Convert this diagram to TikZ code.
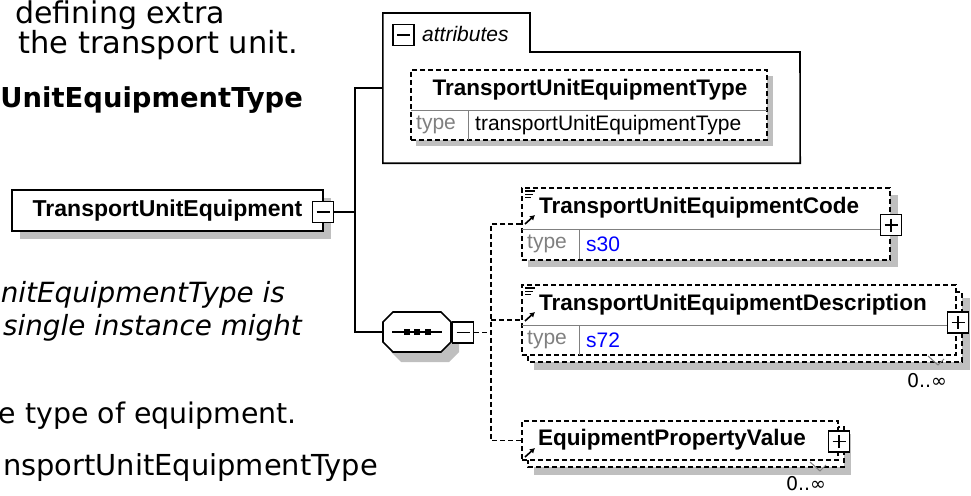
\documentclass[tikz,border=0pt]{standalone}
\usepackage{fontspec}
\setmainfont{DejaVu Sans}
\newfontfamily\spyfont{Liberation Sans}
\usepackage{tikz}
\usetikzlibrary{arrows.meta,calc}
\colorlet{shadowgray}{black!25}
\colorlet{labelgray}{black!50}
\colorlet{typeblue}{blue}
\newcommand{\pmbox}[4]{% name, x, y, 1 = plus
  \node[draw,line width=1.6pt,fill=white,minimum width=21pt,minimum height=21pt,inner sep=0pt] (#1) at (#2,#3) {};
  \draw[line width=1.3pt] ($(#1.center)+(-6.5,0)$)--($(#1.center)+(6.5,0)$);
  \ifnum#4=1 \draw[line width=1.3pt] ($(#1.center)+(0,-6.5)$)--($(#1.center)+(0,6.5)$);\fi}
\newcommand{\typerow}[6]{%
  \draw[labelgray,line width=1pt] (#2,#3)--(#4,#3) ({#2+57},#3)--({#2+57},{#3+30});
  \node[spytext,labelgray,anchor=west] (#1type) at ({#2+5},{#3+15}) {type};
  \node[spytext,text=#5,anchor=west] (#1val) at ({#2+64},{#3+15}) {#6};}
\newcommand{\simplelines}[2]{\foreach \k in {0,1,2} \draw[line width=1.2pt] (#1,{#2+3.2*\k})--++({10-2*\k},0);}
\newcommand{\refarrow}[2]{\draw[-{Latex[length=5pt,width=6pt]},line width=1.6pt] (#1,#2)--++(10,-9);}
\newcommand{\octagon}[3]{%
  \path[#3] ({#1-24},{#2-20})--({#1+24},{#2-20})--({#1+34},{#2-10})--({#1+34},{#2+10})
    --({#1+24},{#2+20})--({#1-24},{#2+20})--({#1-34},{#2+10})--({#1-34},{#2-10})--cycle;}
\begin{document}
\begin{tikzpicture}[x=1pt,y=-1pt,
  line/.style={line width=1.6pt},
  dline/.style={line width=1.5pt,dash pattern=on 5pt off 3pt},
  doc/.style={anchor=base east,inner sep=0pt},
  spyname/.style={inner sep=0pt,font=\spyfont\bfseries\fontsize{22.5}{27}\selectfont},
  spytext/.style={inner sep=0pt,font=\spyfont\fontsize{21}{25}\selectfont},
  occ/.style={inner sep=0pt,font=\fontsize{19}{22}\selectfont},
  elbox/.style={draw,dline,fill=white,inner sep=0pt}]
\useasboundingbox (0,0) rectangle (971,495); \clip (0,0) rectangle (971,495);
% text of the page behind
\node[doc,font=\fontsize{30}{36}\selectfont] (d1) at (225,23.5) {defining extra};
\node[doc,font=\fontsize{30.5}{36}\selectfont] (d2) at (298,54) {the transport unit.};
\node[doc,font=\bfseries\fontsize{27.4}{34}\selectfont] (d3) at (303,107) {UnitEquipmentType};
\node[doc,font=\itshape\fontsize{27.8}{34}\selectfont] (d4) at (285,302) {nitEquipmentType is};
\node[doc,font=\itshape\fontsize{27.8}{34}\selectfont] (d5) at (302,335) {single instance might};
\node[doc,font=\fontsize{28.4}{34}\selectfont] (d6) at (297,423) {e type of equipment.};
\node[doc,font=\fontsize{28.9}{34}\selectfont] (d7) at (378,475) {nsportUnitEquipmentType};
% element
\fill[shadowgray] (20,198) rectangle (331,239);
\node[draw,line,fill=white,minimum width=311pt,minimum height=41pt,spyname,font=\spyfont\bfseries\fontsize{23}{27}\selectfont] (main) at (167.5,210.5) {TransportUnitEquipment\hspace{10pt}};
\pmbox{mainpm}{323}{212}{0}
% attributes
\node[minimum width=417pt,minimum height=150pt,inner sep=0pt] (attrs) at (591.5,88) {};
\draw[line,fill=white] (attrs.south west) |- (530,13) |- (800,52) -- (attrs.south east) -- cycle;
\pmbox{attrpm}{403.5}{35}{0}
\node[spytext,font=\spyfont\itshape\fontsize{21}{25}\selectfont,anchor=west] (attrlbl) at (422,34) {attributes};
\fill[shadowgray] (416,76) rectangle (773,146);
\node[elbox,minimum width=356pt,minimum height=70pt] (attr) at (589,105) {};
\node[spyname] (attrname) at (590,90) {TransportUnitEquipmentType};
\typerow{attr}{411}{110}{767}{black}{transportUnitEquipmentType}
% sequence
\node[minimum width=68pt,minimum height=40pt,inner sep=0pt] (seq) at (417,332) {};
\octagon{425}{342}{fill=shadowgray}
\octagon{417}{332}{draw,line,fill=white}
\draw[line] (392,332) -- (442,332);
\foreach \q in {407,417,428} \fill ({\q-3},329) rectangle ({\q+3},335);
\pmbox{seqpm}{463}{332.5}{0}
% children
\fill[shadowgray] (528,195) rectangle (898,267);
\node[elbox,minimum width=368pt,minimum height=72pt] (code) at (706,224) {};
\node[spyname,anchor=west] (codename) at (539,208) {TransportUnitEquipmentCode};
\typerow{code}{522}{229}{890}{typeblue}{s30}
\simplelines{525}{191} \refarrow{525}{224}
\pmbox{codepm}{891}{225}{1}
\fill[shadowgray] (534,298) rectangle (970,370);
\draw[elbox] (528,292) rectangle (962,362);
\node[elbox,minimum width=434pt,minimum height=70pt] (desc) at (739,320) {};
\node[spyname,anchor=west] (descname) at (539,305) {TransportUnitEquipmentDescription};
\typerow{desc}{522}{325}{956}{typeblue}{s72}
\simplelines{525}{288} \refarrow{525}{321}
\pmbox{descpm}{958}{322.5}{1}
\draw[labelgray,line width=1pt] (928,356) -- (938,365) -- (944,359);
\node[occ] (descocc) at (927,381) {0..∞};
\fill[shadowgray] (534,434) rectangle (851,475);
\draw[elbox] (528,427) rectangle (844,467);
\node[elbox,minimum width=316pt,minimum height=39pt] (value) at (680,440.5) {};
\node[spyname,anchor=west] (valuename) at (538,440) {EquipmentPropertyValue};
\refarrow{525}{457}
\pmbox{valuepm}{839}{441.5}{1}
\draw[labelgray,line width=1pt] (810,462) -- (820,471) -- (826,465);
\node[occ] (valueocc) at (806,484) {0..∞};
% connectors
\draw[line] (mainpm.east) -- (355,212) coordinate (spine);
\draw[line] (attrs.west) -| (spine) |- (seq.west);
\draw[dline] (seqpm.east) -- (491,332.5) coordinate (seqspine);
\draw[dline] (code.west) -| (seqspine) |- (value.west);
\draw[dline] (seqspine |- desc.west) -- (desc.west);
\end{tikzpicture}
\end{document}
